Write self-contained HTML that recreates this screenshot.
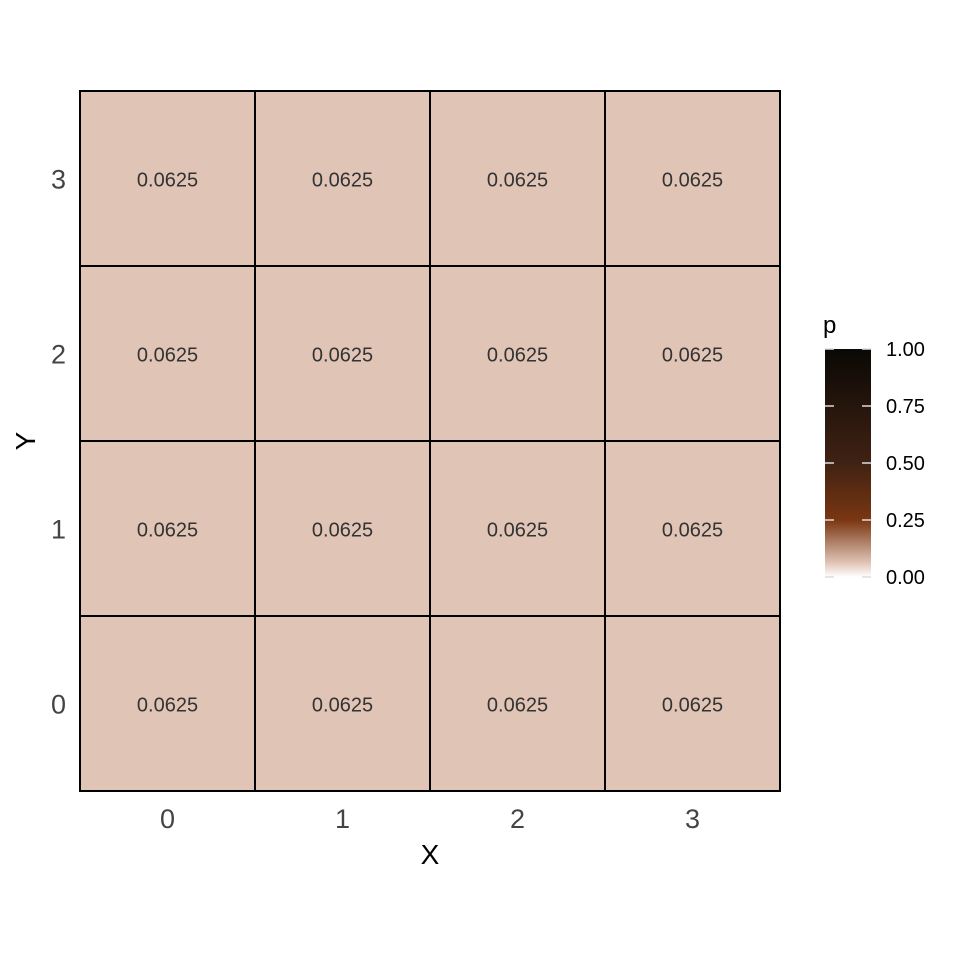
<!DOCTYPE html>
<html><head><meta charset="utf-8"><style>
body{margin:0;background:#fff}
svg{display:block;font-family:"Liberation Sans",sans-serif}
</style></head><body>
<svg id="c" width="960" height="960" viewBox="0 0 960 960">
<defs><linearGradient id="g" x1="0" y1="1" x2="0" y2="0"></linearGradient></defs>
</svg>
<script>
const xCats=[0,1,2,3];
const yCats=[0,1,2,3];
const values=[
[0.0625,0.0625,0.0625,0.0625],
[0.0625,0.0625,0.0625,0.0625],
[0.0625,0.0625,0.0625,0.0625],
[0.0625,0.0625,0.0625,0.0625]];
const legendTicks=[0,0.25,0.5,0.75,1];
const legendLabels=["0.00","0.25","0.50","0.75","1.00"];
const stops=[[0,[255,255,255]],[0.0625,[224,196,181]],[0.25,[122,54,18]],[0.5,[63,34,19]],[1,[11,8,5]]];
const NS="http://www.w3.org/2000/svg";
const svg=document.getElementById('c');
function mk(t,a,p){const e=document.createElementNS(NS,t);for(const k in a)e.setAttribute(k,a[k]);(p||svg).appendChild(e);return e;}
function col(v){for(let i=1;i<stops.length;i++){if(v<=stops[i][0]){const a=stops[i-1],b=stops[i];const t=(v-a[0])/(b[0]-a[0]);return 'rgb('+a[1].map((c,j)=>Math.round(c+(b[1][j]-c)*t)).join(',')+')';}}return 'rgb(11,8,5)';}
const x0=80,y0=91,W=700,H=700;
const cw=W/xCats.length,ch=H/yCats.length;
const xs=i=>x0+i*cw, ys=j=>y0+H-(j+1)*ch;
const cells=mk('g',{});


values.forEach((row,j)=>row.forEach((v,i)=>{
 const r=mk('rect',{x:xs(i),y:ys(j),width:cw,height:ch,fill:col(v),stroke:'#000','stroke-width':2},cells);
 
 
 const t=mk('text',{x:xs(i)+cw/2,y:ys(j)+ch/2+8,'text-anchor':'middle','font-size':20,fill:'#333'},cells);
 t.textContent=String(v);
 
 
}));
mk('rect',{x:x0,y:y0,width:W,height:H,fill:'none',stroke:'#000','stroke-width':1});
xCats.forEach((c,i)=>{const t=mk('text',{x:xs(i)+cw/2,y:828,'text-anchor':'middle','font-size':27,fill:'#444'});t.textContent=c;
 
 });
yCats.forEach((c,j)=>{const t=mk('text',{x:66,y:ys(j)+ch/2+10,'text-anchor':'end','font-size':27,fill:'#444'});t.textContent=c;
 
 });
let t=mk('text',{x:430,y:864,'text-anchor':'middle','font-size':28,fill:'#000'});t.textContent='X';


t=mk('text',{x:0,y:0,'text-anchor':'middle','font-size':28,fill:'#000',transform:'translate(35,441) rotate(-90)'});t.textContent='Y';


const g=document.getElementById('g');
stops.forEach(s=>mk('stop',{offset:s[0],'stop-color':'rgb('+s[1].join(',')+')'},g));
const lx=825,lw=46,ly0=577,ly1=349;
const lys=v=>ly0-(ly0-ly1)*v;
const bar=mk('rect',{x:lx,y:ly1,width:lw,height:ly0-ly1,fill:'url(#g)'});


t=mk('text',{x:823,y:333,'font-size':24,fill:'#000'});t.textContent='p';


legendTicks.forEach((v,k)=>{
 const y=lys(v);
 mk('line',{x1:lx,x2:lx+9,y1:y,y2:y,stroke:'#ddd','stroke-width':1.5});
 mk('line',{x1:lx+lw-9,x2:lx+lw,y1:y,y2:y,stroke:'#ddd','stroke-width':1.5});
 const tt=mk('text',{x:886,y:y+7,'font-size':20,fill:'#000'});tt.textContent=legendLabels[k];
 
 
});
</script>
</body></html>
